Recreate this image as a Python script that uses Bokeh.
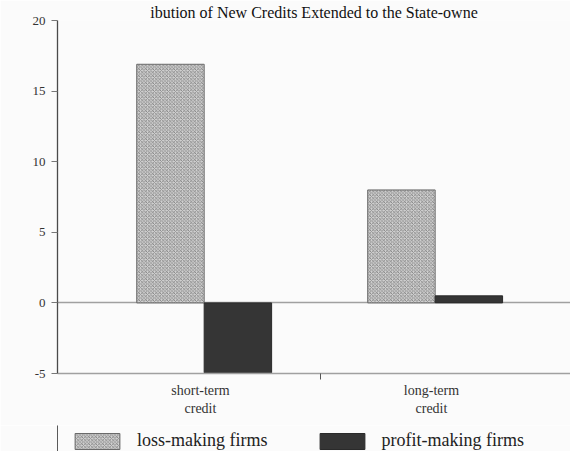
from bokeh.plotting import figure
from bokeh.models import Range1d, FixedTicker, Legend, LegendItem
from bokeh.layouts import column
from bokeh.embed import file_html
from bokeh.resources import INLINE
import numpy as np

title_text = "ibution of New Credits Extended to the State-owne"
categories = ["short-term\ncredit", "long-term\ncredit"]
loss_making = [16.9, 8.0]
profit_making = [-4.95, 0.5]
y_ticks = [-5, 0, 5, 10, 15, 20]
legend_labels = ["loss-making firms", "profit-making firms"]

idx = np.arange(len(categories))
bar_w = 0.292
BG = "#fbfbfb"
loss_style = dict(fill_color="#d0d0d0", line_color="#6a6a6a", line_width=1,
                  hatch_pattern="diagonal_cross", hatch_color="#707070",
                  hatch_scale=3.5, hatch_weight=0.7)
profit_style = dict(fill_color="#353535", line_color="#2a2a2a", line_width=1)

p = figure(width=570, height=425, output_backend="svg", toolbar_location=None,
           title=title_text,
           x_range=Range1d(-0.619, 1.602), y_range=Range1d(-5, 20),
           min_border_left=57, min_border_top=20, min_border_right=0, min_border_bottom=52)
p.outline_line_color = None
p.background_fill_color = BG
p.border_fill_color = BG
p.title.align = "center"
p.title.text_font = "Liberation Serif"
p.title.text_font_size = "16px"
p.title.text_font_style = "normal"
p.title.text_color = "#111111"
p.title.standoff = 0
p.title.offset = 0

p.vbar(x=idx - 0.13, top=loss_making, bottom=0, width=bar_w, **loss_style)
p.vbar(x=idx + 0.162, top=profit_making, bottom=0, width=bar_w, **profit_style)

# grid: top border and zero line
p.xgrid.visible = False
p.ygrid.ticker = FixedTicker(ticks=[0, 20])
p.ygrid.grid_line_color = "#a0a0a0"
p.ygrid.grid_line_width = 1.5

ya = p.yaxis[0]
ya.ticker = FixedTicker(ticks=y_ticks)
ya.major_label_overrides = {t: str(t) for t in y_ticks}
ya.axis_line_color = "#4a4a4a"
ya.axis_line_width = 1.3
ya.major_tick_out = 6
ya.major_tick_in = 0
ya.minor_tick_line_color = None
ya.major_tick_line_color = "#777777"
ya.major_label_standoff = 6
ya.major_label_text_font = "Liberation Serif"
ya.major_label_text_font_size = "13px"
ya.major_label_text_color = "#333333"

xa = p.xaxis[0]
xa.ticker = FixedTicker(ticks=list(idx), minor_ticks=[0.52])
xa.major_label_overrides = {int(i): c for i, c in zip(idx, categories)}
xa.axis_line_color = "#a0a0a0"
xa.axis_line_width = 1.5
xa.major_tick_line_color = None
xa.major_tick_out = 0
xa.minor_tick_out = 6
xa.minor_tick_in = 0
xa.minor_tick_line_color = "#555555"
xa.major_label_standoff = 3
xa.major_label_text_font = "Liberation Serif"
xa.major_label_text_font_size = "14px"
xa.major_label_text_color = "#333333"

# legend strip below the chart (no axes; its frame aligns with the chart's frame)
lg = figure(width=570, height=26, output_backend="svg", toolbar_location=None,
            x_range=Range1d(0, 1), y_range=Range1d(0, 1),
            x_axis_location=None, y_axis_location=None,
            min_border_left=0, min_border_top=0, min_border_right=0, min_border_bottom=0)
lg.grid.visible = False
lg.outline_line_color = None
lg.background_fill_color = BG
lg.border_fill_color = BG
# legend proxies: same styles, placed outside the visible range
lr1 = lg.vbar(x=[-10], top=[1], width=1, **loss_style)
lr2 = lg.vbar(x=[-10], top=[1], width=1, **profit_style)
legend = Legend(items=[LegendItem(label=legend_labels[0], renderers=[lr1]),
                       LegendItem(label=legend_labels[1], renderers=[lr2])],
                location=(12, 0), orientation="horizontal",
                glyph_width=56, glyph_height=20, label_standoff=12, spacing=46,
                padding=0, margin=0, border_line_color=None, background_fill_alpha=0,
                label_text_font="Liberation Serif", label_text_font_size="18px",
                label_text_color="#222222")
lg.add_layout(legend, "center")

layout = column(p, lg, spacing=0)
open("out.html", "w").write(file_html(layout, INLINE))
